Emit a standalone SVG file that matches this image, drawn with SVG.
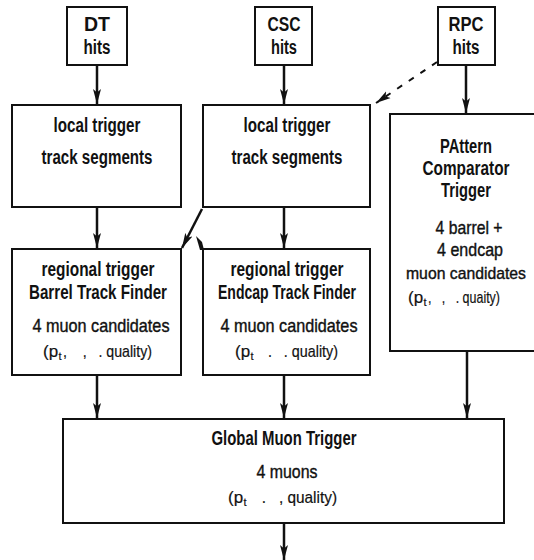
<svg xmlns="http://www.w3.org/2000/svg" width="534" height="560" viewBox="0 0 534 560">
<style>
.box{fill:#fff;stroke:#111;stroke-width:2}
.t{font-family:"Liberation Sans",Arial,sans-serif;font-size:19.5px;fill:#111;text-anchor:middle}
.b{font-weight:bold}
.m{font-size:19px;stroke:#111;stroke-width:0.4}
.s{font-family:"Liberation Sans",Arial,sans-serif;font-size:17px;fill:#111;stroke:#111;stroke-width:0.2;text-anchor:start}
.sub{font-size:11px}
.c{stroke:#111;stroke-width:2.5;fill:none}
.d{stroke:#111;stroke-width:2;fill:none;stroke-dasharray:6 8}
</style>
<defs>
<marker id="ah" viewBox="0 0 15 9" refX="15" refY="4.5" markerWidth="15" markerHeight="9" orient="auto" markerUnits="userSpaceOnUse">
<path d="M0,0.5 L15,4.5 L0,8.5 L3.5,4.5 Z" fill="#111"/>
</marker>
</defs>
<rect width="534" height="560" fill="#fff"/>

<g id="connectors">
<line class="c" x1="97" y1="65" x2="97" y2="104" marker-end="url(#ah)"/>
<line class="c" x1="284" y1="65" x2="284" y2="104" marker-end="url(#ah)"/>
<line class="c" x1="466" y1="65" x2="466" y2="113" marker-end="url(#ah)"/>
<line class="c" x1="97" y1="208" x2="97" y2="248" marker-end="url(#ah)"/>
<line class="c" x1="284" y1="208" x2="284" y2="248" marker-end="url(#ah)"/>
<line class="d" x1="437" y1="62" x2="376" y2="103" marker-end="url(#ah)"/>
<line class="c" stroke-width="1.8" x1="202" y1="209" x2="182" y2="248" marker-end="url(#ah)"/>
<path d="M196,236 L202,242 L204,250 L200,250 L198,243 Z" fill="#111"/>
<line class="c" x1="97" y1="376" x2="97" y2="418" marker-end="url(#ah)"/>
<line class="c" x1="284" y1="376" x2="284" y2="418" marker-end="url(#ah)"/>
<line class="c" x1="467" y1="352" x2="467" y2="418" marker-end="url(#ah)"/>
<line class="c" x1="284" y1="524" x2="284" y2="560" marker-end="url(#ah)"/>
</g>

<g id="dt">
<rect class="box" x="67" y="7" width="60" height="58"/>
<text class="t b" x="97" y="31" textLength="26" lengthAdjust="spacingAndGlyphs">DT</text>
<text class="t b" x="97" y="54" textLength="27" lengthAdjust="spacingAndGlyphs">hits</text>
</g>
<g id="csc">
<rect class="box" x="255" y="7" width="57" height="58"/>
<text class="t b" x="284" y="31" textLength="33" lengthAdjust="spacingAndGlyphs">CSC</text>
<text class="t b" x="284" y="54" textLength="26" lengthAdjust="spacingAndGlyphs">hits</text>
</g>
<g id="rpc">
<rect class="box" x="438" y="7" width="57" height="58"/>
<text class="t b" x="466" y="31" textLength="35" lengthAdjust="spacingAndGlyphs">RPC</text>
<text class="t b" x="466" y="54" textLength="27" lengthAdjust="spacingAndGlyphs">hits</text>
</g>

<g id="local1">
<rect class="box" x="12" y="105" width="169" height="102"/>
<text class="t b" x="97" y="132" textLength="87" lengthAdjust="spacingAndGlyphs">local trigger</text>
<text class="t b" x="97" y="164" textLength="111" lengthAdjust="spacingAndGlyphs">track segments</text>
</g>
<g id="local2">
<rect class="box" x="203" y="105" width="167" height="102"/>
<text class="t b" x="287" y="132" textLength="87" lengthAdjust="spacingAndGlyphs">local trigger</text>
<text class="t b" x="287" y="164" textLength="111" lengthAdjust="spacingAndGlyphs">track segments</text>
</g>

<g id="pact">
<path class="box" d="M534,114 H390 V351 H534"/>
<text class="t b" x="466" y="153" textLength="52" lengthAdjust="spacingAndGlyphs">PAttern</text>
<text class="t b" x="466" y="175" textLength="87" lengthAdjust="spacingAndGlyphs">Comparator</text>
<text class="t b" x="466" y="197" textLength="50" lengthAdjust="spacingAndGlyphs">Trigger</text>
<text class="t m" x="469" y="234" textLength="67" lengthAdjust="spacingAndGlyphs">4 barrel +</text>
<text class="t m" x="470" y="256" textLength="66" lengthAdjust="spacingAndGlyphs">4 endcap</text>
<text class="t m" x="466" y="279" style="font-size:17px" textLength="120" lengthAdjust="spacingAndGlyphs">muon candidates</text>
<text class="s" x="408" y="303">(p</text>
<text class="s sub" x="423.5" y="306">t</text>
<text class="s" x="428" y="303" xml:space="preserve" textLength="72" lengthAdjust="spacingAndGlyphs">,   ,   . quaity)</text>
</g>

<g id="barrel">
<rect class="box" x="12" y="249" width="169" height="126"/>
<text class="t b" x="98" y="276" textLength="113" lengthAdjust="spacingAndGlyphs">regional trigger</text>
<text class="t b" x="98" y="299" textLength="138" lengthAdjust="spacingAndGlyphs">Barrel Track Finder</text>
<text class="t m" x="101" y="332" textLength="137" lengthAdjust="spacingAndGlyphs">4 muon candidates</text>
<text class="s" x="43" y="357">(p</text>
<text class="s sub" x="58.5" y="360">t</text>
<text class="s" x="63" y="357" xml:space="preserve" textLength="89" lengthAdjust="spacingAndGlyphs">,    ,   . quality)</text>
</g>
<g id="endcap">
<rect class="box" x="203" y="249" width="167" height="126"/>
<text class="t b" x="287" y="276" textLength="113" lengthAdjust="spacingAndGlyphs">regional trigger</text>
<text class="t b" x="287" y="299" textLength="138" lengthAdjust="spacingAndGlyphs">Endcap Track Finder</text>
<text class="t m" x="289" y="332" textLength="137" lengthAdjust="spacingAndGlyphs">4 muon candidates</text>
<text class="s" x="235" y="357">(p</text>
<text class="s sub" x="250.5" y="360">t</text>
<text class="s" x="256" y="357" xml:space="preserve" textLength="82" lengthAdjust="spacingAndGlyphs">   .   . quality)</text>
</g>

<g id="global">
<rect class="box" x="63" y="419" width="441" height="104"/>
<text class="t b" x="284" y="445" textLength="145" lengthAdjust="spacingAndGlyphs">Global Muon Trigger</text>
<text class="t m" x="287" y="478" textLength="61" lengthAdjust="spacingAndGlyphs">4 muons</text>
<text class="s" x="228" y="503">(p</text>
<text class="s sub" x="243.5" y="506">t</text>
<text class="s" x="249" y="503" xml:space="preserve" textLength="88" lengthAdjust="spacingAndGlyphs">   .   , quality)</text>
</g>
</svg>
